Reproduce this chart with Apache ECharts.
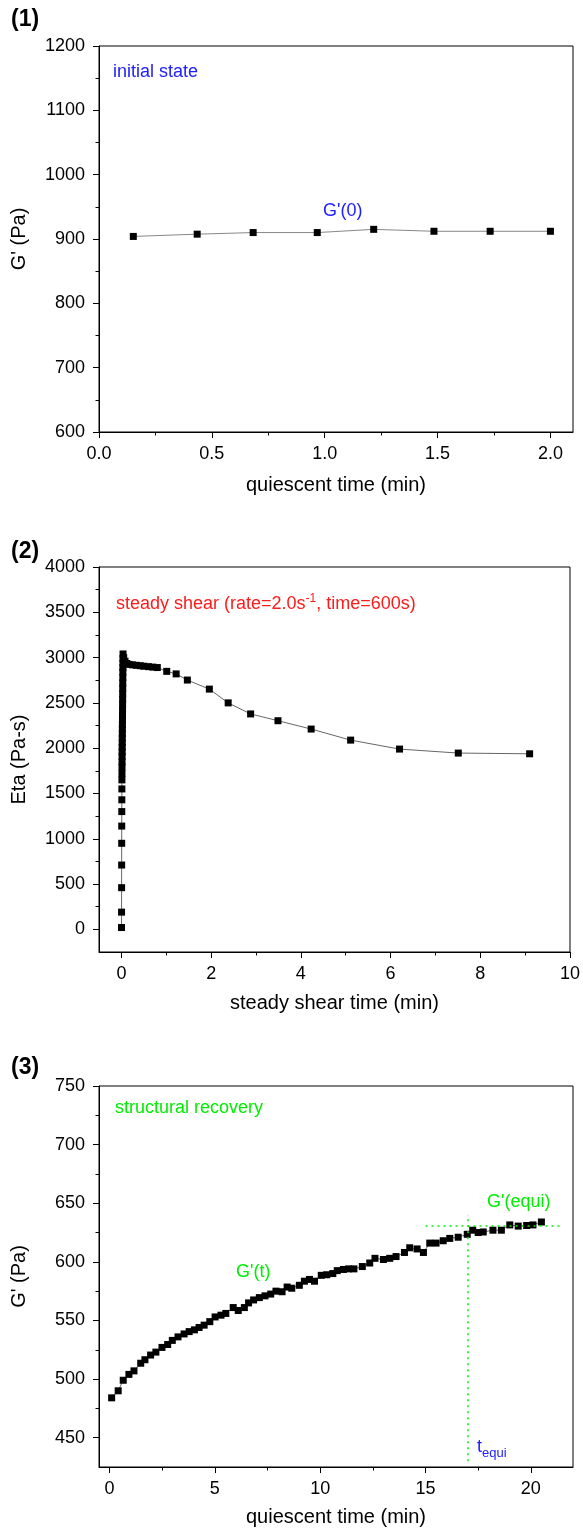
<!DOCTYPE html>
<html><head><meta charset="utf-8">
<script src="https://cdn.jsdelivr.net/npm/echarts@6/dist/echarts.min.js"></script>
<style>html,body{margin:0;padding:0;background:#fff}#c{width:583px;height:1529px}</style>
</head><body><div id="c"></div>
<script>
// ---------- Panel 1: initial state ----------
const p1Time = [0.152, 0.435, 0.683, 0.967, 1.217, 1.484, 1.733, 2.0];
const p1G = [904, 907.5, 910, 910, 915, 912, 912, 912];
const p1XMajor = [0, 0.5, 1.0, 1.5, 2.0];
const p1XMinor = [0.25, 0.75, 1.25, 1.75];
const p1YMajor = [600, 700, 800, 900, 1000, 1100, 1200];
const p1YMinor = [650, 750, 850, 950, 1050, 1150];

// ---------- Panel 2: steady shear ----------
const p2Time = [0.002,0.003,0.004,0.005,0.006,0.007,0.008,0.009,0.010,0.011,0.012,0.013,0.014,0.015,0.016,0.017,0.018,0.019,0.020,0.021,0.022,0.023,0.024,0.025,0.026,0.027,0.028,0.029,0.030,0.031,0.032,0.033,0.034,0.035,0.036,
  0.05,0.08,0.12,0.17,0.25,0.33,0.42,0.5,0.6,0.7,0.8,1.01,1.22,1.47,1.96,2.38,2.88,3.49,4.23,5.11,6.2,7.51,9.1];
const p2Eta = [20,190,460,710,950,1140,1300,1430,1550,1650,1720,1790,1850,1910,1960,2010,2060,2110,2160,2210,2260,2310,2360,2420,2480,2540,2600,2660,2720,2780,2840,2890,2940,2990,3040,
  3000,2960,2935,2925,2920,2915,2910,2905,2900,2895,2890,2848,2820,2752,2652,2500,2378,2303,2211,2089,1990,1946,1938];
const p2XMajor = [0, 2, 4, 6, 8, 10];
const p2XMinor = [1, 3, 5, 7, 9];
const p2YMajor = [0, 500, 1000, 1500, 2000, 2500, 3000, 3500, 4000];
const p2YMinor = [250, 750, 1250, 1750, 2250, 2750, 3250, 3750];

// ---------- Panel 3: structural recovery ----------
const p3Time = [0.1,0.41,0.65,0.92,1.16,1.48,1.68,1.95,2.2,2.49,2.76,2.98,3.25,3.54,3.78,4.03,4.25,4.49,4.76,5.01,5.29,5.52,5.87,6.11,6.4,6.6,6.84,7.11,7.38,7.65,7.9,8.19,8.43,8.65,9.01,9.25,9.49,9.73,10.05,10.31,10.6,10.81,11.1,11.35,11.6,12.0,12.35,12.6,13.0,13.3,13.6,14.0,14.25,14.6,14.9,15.2,15.5,15.84,16.15,16.55,16.98,17.24,17.5,17.74,18.2,18.6,19.0,19.4,19.8,20.1,20.5];
const p3G = [484,490,499,504,507,513.5,516.5,520.5,523,527,529.5,533,536,538.5,540.5,542,544,546,549,553,554.5,556,561,558.5,561,565,567.5,569.5,571,572.5,575,574.5,578.5,577.5,580,583.5,585,583.5,588.5,589,590,592.5,593.5,594,594,596,599,603,602,603,604.5,608,612,611,608,616,616,618,620,621,623.5,627,625,625.5,627,627,631.5,630.5,631,631.5,634];
const p3XMajor = [0, 5, 10, 15, 20];
const p3XMinor = [2.5, 7.5, 12.5, 17.5];
const p3YMajor = [450, 500, 550, 600, 650, 700, 750];
const p3YMinor = [475, 525, 575, 625, 675, 725];
const gEqui = 631;
const tEqui = 17;
const equiLineX = [15, 21.5];
const equiLineY = [430, 640];

const FONT = '"Liberation Sans", Arial, Helvetica, sans-serif';
const BLUE = '#2020ff', RED = '#ff1a1a', GREEN = '#00ee00';

function zip(a, b) { return a.map((v, i) => [v, b[i]]); }

function mainAxis(grid, min, max, major, fmt, name, nameGap, isY) {
  return {
    type: 'value', gridIndex: grid, min: min, max: max,
    position: isY ? 'left' : 'bottom',
    axisLine: { show: true, onZero: false, lineStyle: { color: '#000', width: 1 } },
    axisTick: { show: true, customValues: major, length: 6, lineStyle: { color: '#000', width: 1 } },
    axisLabel: { customValues: major, formatter: fmt, color: '#000', fontSize: 18, fontFamily: FONT, margin: isY ? 14 : 13 },
    splitLine: { show: false },
    name: name, nameLocation: 'middle', nameGap: nameGap,
    nameTextStyle: { color: '#000', fontSize: 20, fontFamily: FONT }
  };
}
function minorAxis(grid, min, max, minor, isY) {
  return {
    type: 'value', gridIndex: grid, min: min, max: max,
    position: isY ? 'left' : 'bottom', offset: 0,
    axisLine: { show: false, onZero: false },
    axisTick: { show: true, customValues: minor, length: 3.5, lineStyle: { color: '#000', width: 1 } },
    axisLabel: { show: false },
    splitLine: { show: false }
  };
}
const f1 = v => v.toFixed(1);
const f0 = v => String(v);

const gridBase = { show: true, borderColor: '#000', borderWidth: 1, backgroundColor: 'transparent' };

const chart = echarts.init(document.getElementById('c'), null, { renderer: 'canvas' });
chart.setOption({
  animation: false,
  backgroundColor: '#fff',
  grid: [
    Object.assign({ left: 99, top: 46, width: 474, height: 386 }, gridBase),
    Object.assign({ left: 99, top: 567, width: 473, height: 385 }, gridBase),
    Object.assign({ left: 99, top: 1086, width: 474, height: 381 }, gridBase)
  ],
  xAxis: [
    mainAxis(0, 0, 2.1, p1XMajor, f1, 'quiescent time (min)', 43, false),
    minorAxis(0, 0, 2.1, p1XMinor, false),
    mainAxis(1, -0.5, 10, p2XMajor, f0, 'steady shear time (min)', 41, false),
    minorAxis(1, -0.5, 10, p2XMinor, false),
    mainAxis(2, -0.5, 22, p3XMajor, f0, 'quiescent time (min)', 40, false),
    minorAxis(2, -0.5, 22, p3XMinor, false)
  ],
  yAxis: [
    mainAxis(0, 600, 1200, p1YMajor, f0, "G' (Pa)", 70, true),
    minorAxis(0, 600, 1200, p1YMinor, true),
    mainAxis(1, -250, 4000, p2YMajor, f0, 'Eta (Pa-s)', 70, true),
    minorAxis(1, -250, 4000, p2YMinor, true),
    mainAxis(2, 425, 750, p3YMajor, f0, "G' (Pa)", 70, true),
    minorAxis(2, 425, 750, p3YMinor, true)
  ],
  series: [
    {
      type: 'line', xAxisIndex: 0, yAxisIndex: 0, data: zip(p1Time, p1G),
      symbol: 'rect', symbolSize: 7, itemStyle: { color: '#000' },
      lineStyle: { color: '#888', width: 1 }, silent: true
    },
    {
      type: 'line', xAxisIndex: 2, yAxisIndex: 2, data: zip(p2Time, p2Eta),
      symbol: 'rect', symbolSize: 7, itemStyle: { color: '#000' },
      lineStyle: { color: '#666', width: 1 }, silent: true
    },
    {
      type: 'line', xAxisIndex: 4, yAxisIndex: 4, data: zip(p3Time, p3G),
      symbol: 'rect', symbolSize: 7, itemStyle: { color: '#000' },
      lineStyle: { color: '#666', width: 1 }, silent: true,
      markLine: {
        silent: true, symbol: 'none', label: { show: false },
        lineStyle: { color: GREEN, type: [2, 4], width: 1.5 },
        data: [
          [{ coord: [equiLineX[0], gEqui] }, { coord: [equiLineX[1], gEqui] }],
          [{ coord: [tEqui, equiLineY[0]] }, { coord: [tEqui, equiLineY[1]] }]
        ]
      }
    }
  ],
  graphic: [
    { type: 'text', x: 11, y: 20, style: { text: '(1)', font: 'bold 23px ' + FONT, fill: '#000', verticalAlign: 'middle' } },
    { type: 'text', x: 11, y: 552, style: { text: '(2)', font: 'bold 23px ' + FONT, fill: '#000', verticalAlign: 'middle' } },
    { type: 'text', x: 11, y: 1068, style: { text: '(3)', font: 'bold 23px ' + FONT, fill: '#000', verticalAlign: 'middle' } },
    { type: 'text', x: 113, y: 72, style: { text: 'initial state', font: '18px ' + FONT, fill: BLUE, verticalAlign: 'middle' } },
    { type: 'text', x: 323, y: 211, style: { text: "G'(0)", font: '18px ' + FONT, fill: BLUE, verticalAlign: 'middle' } },
    { type: 'text', x: 116, y: 604, style: {
        text: 'steady shear (rate=2.0s{sup|-1}, time=600s)', font: '18px ' + FONT, fill: RED, verticalAlign: 'middle',
        lineHeight: 22,
        rich: { sup: { fontSize: 12, fontFamily: FONT, fill: RED, verticalAlign: 'top', lineHeight: 12 } }
    } },
    { type: 'text', x: 115, y: 1108, style: { text: 'structural recovery', font: '18px ' + FONT, fill: GREEN, verticalAlign: 'middle' } },
    { type: 'text', x: 236, y: 1272, style: { text: "G'(t)", font: '18px ' + FONT, fill: GREEN, verticalAlign: 'middle' } },
    { type: 'text', x: 487, y: 1202, style: { text: "G'(equi)", font: '18px ' + FONT, fill: GREEN, verticalAlign: 'middle' } },
    { type: 'text', x: 477, y: 1447, style: {
        text: 't{sub|equi}', font: '18px ' + FONT, fill: BLUE, verticalAlign: 'middle', lineHeight: 26,
        rich: { sub: { fontSize: 13, fontFamily: FONT, fill: BLUE, verticalAlign: 'bottom', lineHeight: 13 } }
    } }
  ]
});
</script>
</body></html>
